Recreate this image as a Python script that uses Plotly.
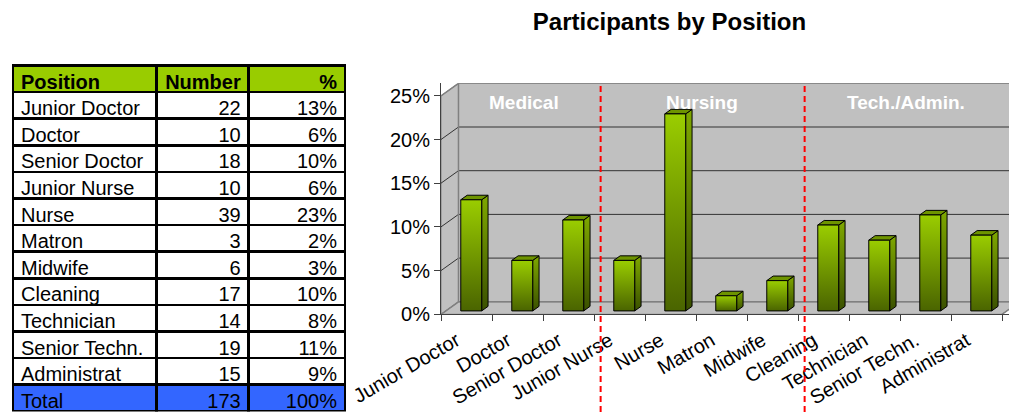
import plotly.graph_objects as go

# ---------------- data ----------------
positions = ["Junior Doctor", "Doctor", "Senior Doctor", "Junior Nurse", "Nurse",
             "Matron", "Midwife", "Cleaning", "Technician", "Senior Techn.", "Administrat"]
numbers = [22, 10, 18, 10, 39, 3, 6, 17, 14, 19, 15]
table_header = ["Position", "Number", "%"]
groups = ["Medical", "Nursing", "Tech./Admin."]
group_sizes = [3, 4, 4]
y_ticks = [0, 5, 10, 15, 20, 25]
title_text = "Participants by Position"

# ---------------- derived ----------------
total = sum(numbers)
shares = [n / total * 100 for n in numbers]
pct_text = [f"{round(s):d}%" for s in shares]

# ---------------- geometry / style ----------------
W, H = 1017, 412                 # browser window
OX, OY = 8, 8                    # default page body margin
FW, FH = W - OX, H - OY          # figure size so that it fills the visible window


def px(p):   # page x pixel -> paper fraction
    return (p - OX) / FW


def py(p):   # page y pixel -> paper fraction
    return (H - p) / FH


X0PX, CATPX = 441, 51.0          # front x-axis origin and px per category
Y0PX, PCTPX = 314.3, 8.74        # front 0% pixel row and px per percent
DX, DY = 0.343, 1.43             # depth offset (category units, percent units)
YMAX = y_ticks[-1]
YTOP = YMAX + DY
BAR_W, F0, F1 = 0.41, 0.27, 0.635
FONT = "Arial, Liberation Sans, sans-serif"
WALL = "#C0C0C0"
EDGE = "#808080"
GRID = "#333333"

n = len(positions)
xr_max = (W - X0PX) / CATPX

fig = go.Figure()


def poly(xs, ys, fill, line_color=EDGE, lw=1, gradient=None):
    kw = dict(x=xs + [xs[0]], y=ys + [ys[0]], mode="lines", fill="toself",
              line=dict(color=line_color, width=lw), hoverinfo="skip", showlegend=False)
    if gradient:
        kw["fillgradient"] = dict(type="vertical", colorscale=gradient)
    else:
        kw["fillcolor"] = fill
    fig.add_trace(go.Scatter(**kw))


# side wall, back wall, floor
poly([0, 0, DX, DX], [0, YMAX, YTOP, DY], WALL)
poly([DX, DX, n + DX, n + DX], [DY, YTOP, YTOP, DY], WALL)
poly([0, n, n + DX, DX], [0, 0, DY, DY], WALL)

# gridlines on back wall and side wall
gx, gy = [], []
for t in y_ticks[1:-1]:
    gx += [0, DX, n + DX, None]
    gy += [t, t + DY, t + DY, None]
fig.add_trace(go.Scatter(x=gx, y=gy, mode="lines", line=dict(color=GRID, width=1),
                         hoverinfo="skip", showlegend=False))
# wall edges
fig.add_trace(go.Scatter(x=[0, DX, n + DX, None, DX, DX, None, 0, DX, n + DX, n],
                         y=[YMAX, YTOP, YTOP, None, YTOP, DY, None, 0, DY, DY, 0],
                         mode="lines", line=dict(color=EDGE, width=1.5),
                         hoverinfo="skip", showlegend=False))

# 3D bars
front_grad = [[0, "#4A6400"], [1, "#9ACD00"]]
side_grad = [[0, "#3A5000"], [1, "#7FA800"]]
top_col = "#6E9400"
ddx, ddy = (F1 - F0) * DX, (F1 - F0) * DY
for i, v in enumerate(shares):
    c = i + 0.5
    xl = c - BAR_W / 2 + F0 * DX
    xr = xl + BAR_W
    yb = F0 * DY
    yt = v + F0 * DY
    poly([xr, xr + ddx, xr + ddx, xr], [yb, yb + ddy, yt + ddy, yt], None, "#000000", 1, side_grad)
    poly([xl, xr, xr + ddx, xl + ddx], [yt, yt, yt + ddy, yt + ddy], top_col, "#000000", 1)
    poly([xl, xr, xr, xl], [yb, yb, yt, yt], None, "#000000", 1, front_grad)

# group separators and labels
start = 0
ann = []
shapes = []
for gi, (g, s) in enumerate(zip(groups, group_sizes)):
    ann.append(dict(x=start + s / 2 + 0.12, y=YMAX - 0.8, xref="x", yref="y", text=f"<b>{g}</b>",
                    showarrow=False, font=dict(family=FONT, size=19, color="white")))
    if gi > 0:
        shapes.append(dict(type="line", xref="x", yref="paper", x0=start + 0.13, x1=start + 0.13,
                           y0=0, y1=py(Y0PX - YTOP * PCTPX),
                           line=dict(color="#FF0000", width=2, dash="6px,4px"), layer="above"))
    start += s

# ---------------- table ----------------
row_fill = ["white"] * n + ["#3366FF"]
nb = lambda s: s.replace(" ", "\u00a0")
fig.add_trace(go.Table(
    domain=dict(x=[px(13), px(345)], y=[0, py(65.5)]),
    columnwidth=[143, 92, 96],
    header=dict(values=table_header,
                fill_color="#99CC00", align=["left", "right", "right"],
                line=dict(color="black", width=2.5), height=26.6,
                font=dict(family=FONT, size=20, color="black", weight="bold")),
    cells=dict(values=[[nb(p) for p in positions] + ["Total"],
                       [str(v) for v in numbers] + [str(total)],
                       pct_text + ["100%"]],
               fill_color=[row_fill] * 3, align=["left", "right", "right"],
               line=dict(color="black", width=2.5), height=26.6,
               font=dict(family=FONT, size=20, color="black")),
))

fig.update_layout(
    width=FW, height=FH,
    margin=dict(l=0, r=0, t=0, b=0, autoexpand=False),
    paper_bgcolor="white", plot_bgcolor="white",
    showlegend=False,
    title=dict(text=f"<b>{title_text}</b>", x=px(669.5), y=py(22), automargin=False,
               xanchor="center", yanchor="middle", font=dict(family=FONT, size=24, color="black")),
    xaxis=dict(domain=[px(X0PX), 1], range=[0, xr_max], showgrid=False, zeroline=False,
               automargin=False,
               tickmode="array", tickvals=[i + 0.5 for i in range(n)], ticktext=positions,
               tickangle=-30, ticks="", tickfont=dict(family=FONT, size=20, color="black"),
               ticklabelshift=-10, ticklabelstandoff=6,
               showline=True, linecolor="#404040", linewidth=1,
               minor=dict(tickmode="array", tickvals=list(range(n + 1)), ticks="outside",
                          ticklen=6, tickcolor="#404040", showgrid=False)),
    yaxis=dict(domain=[py(Y0PX), py(Y0PX - YTOP * PCTPX)], range=[0, YTOP],
               showgrid=False, zeroline=False, automargin=False,
               tickmode="array", tickvals=y_ticks, ticktext=[f"{t}%" for t in y_ticks],
               ticks="outside", ticklen=6, tickcolor="#404040",
               tickfont=dict(family=FONT, size=20, color="black"),
               showline=True, linecolor="#404040", linewidth=1),
    annotations=ann,
    shapes=shapes,
)

fig.write_html("out.html")
